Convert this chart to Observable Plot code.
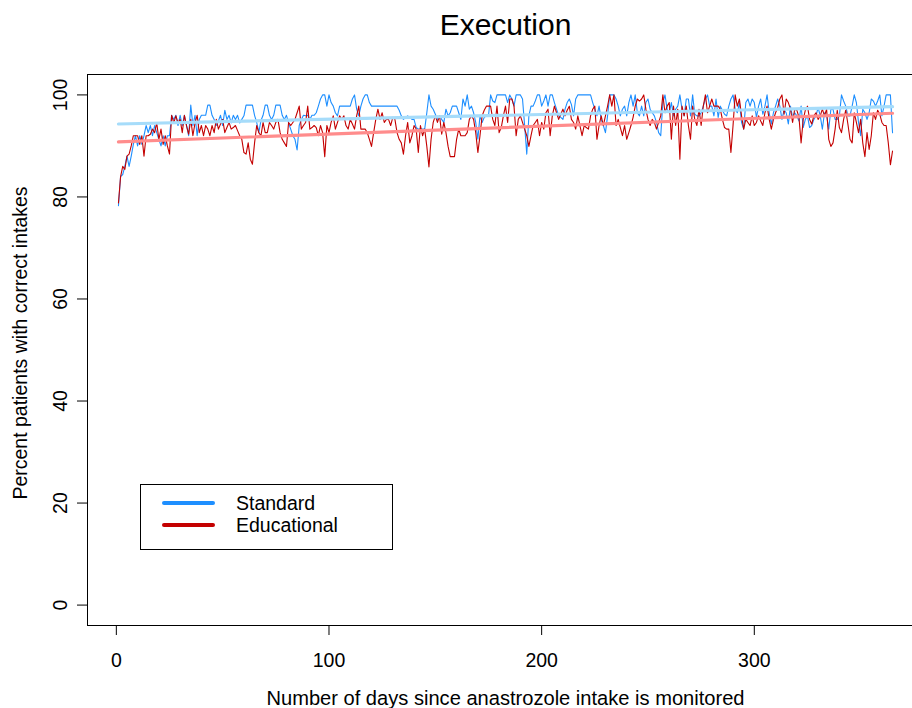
<!DOCTYPE html>
<html>
<head>
<meta charset="utf-8">
<script src="https://cdn.jsdelivr.net/npm/d3@7"></script>
<script src="https://cdn.jsdelivr.net/npm/@observablehq/plot@0.6"></script>
<style>
  html, body { margin: 0; padding: 0; background: white; }
  #wrap { position: relative; width: 912px; height: 708px; overflow: hidden; font-family: "Liberation Sans", Arial, sans-serif; }
  #wrap svg { max-width: none !important; }
</style>
</head>
<body>
<div id="wrap"></div>
<script>
const title = "Execution";
const xLabel = "Number of days since anastrozole intake is monitored";
const yLabel = "Percent patients with correct intakes";
const seriesNames = ["Standard", "Educational"];
const xTicks = [0, 100, 200, 300];
const yTicks = [0, 20, 40, 60, 80, 100];

const days = d3.range(1, 366);

const standard = [
  78.3, 84, 84.4, 86, 88, 86, 88, 90.3, 92, 90,
  92, 90.3, 92, 94, 92.6, 94, 92, 94, 92.6, 91.3,
  90, 92, 90, 92, 92, 96, 95.2, 96, 94, 96,
  94, 96, 94, 92, 98, 94, 96, 92, 95.2, 96,
  96, 96, 98, 98, 96,
  95.2, 94, 94.9, 96, 94,
  97, 95.2, 96, 94.5, 96, 95.2, 96, 94.5, 95.2, 95.9,
  98, 98, 98, 98, 96, 94.6, 92.6, 95, 96, 98,
  98, 96, 95.2, 96, 98, 98, 98, 96, 95.2, 96,
  94.5, 93.3, 92, 91.3, 89.2, 94, 95.2, 96, 95.9, 96,
  95.2, 96, 96,
  96.5, 97.8, 99.2, 100, 100, 97.8, 100,
  98.5, 97.8, 96.5, 95.9, 97.8, 97.8, 97.8, 97.8, 97.8, 97.8,
  99.2, 100, 97.2, 95.9, 97.8, 99.2, 100, 100, 98.5, 97.8,
  97.8, 97.8, 97.8, 97.8, 97.8, 97.8, 97.8, 97.8, 97.8, 97.8,
  97.8, 97.8, 97, 95.9, 95.2, 95.6, 95.9, 95.6, 95.2, 95.2,
  93.6, 93.3, 93.3, 93.3, 93.3, 96.5, 100, 97.8, 97.2, 96.2,
  95.2, 95.9, 95.2, 94.6, 97.2, 95.9, 96.5, 97.8, 97.8, 97.8,
  96.5, 95.2, 99.2, 97.8, 100, 97.2, 97.8, 96.5, 94.6, 91.3,
  95.9, 94.6, 95.6, 95.9, 95.9, 100, 98.8, 98.5, 100, 100,
  100, 100, 100, 98.5, 100, 99.2, 97.8,
  100, 100, 100,
  99.2, 94, 88.4, 95.9, 97.8, 97.8, 98.8, 100, 100, 97.8,
  98.8, 100, 97.8, 100, 100, 98.5, 97.2, 95.9, 95.6, 95.2,
  97.2, 98.5, 99.2, 98.1, 95.9, 99.2, 100, 100, 100, 100,
  100, 100, 100, 98.5, 97.2, 95.9, 97.8, 95.2, 94, 92.6,
  95.9, 100, 100, 100,
  99.2, 97.8, 95.9, 97.2, 97.8, 95.9,
  98.5, 100, 97.8, 100, 96.5, 95.9, 97.8, 95.9, 98.5, 99.2,
  97.2, 96.5, 95.9, 94.6, 92.6, 92, 98.5, 100, 97.2, 96.5,
  98.5, 95.9, 97.2, 97.8, 100, 97.2, 95.9, 99.2, 99.2, 95.9,
  100, 96.2, 95.9, 95.9, 96.5, 97.8, 99.2, 100, 97.8, 97.8,
  95.9,
  99.2, 95.6, 97.8, 97, 96.2, 95.9, 97.8, 99.2, 100,
  97.2, 96.5, 98.5, 94.6, 93.3, 98.5, 99.2, 97.8, 99.2, 98.5,
  95.6, 97.8, 99.2, 96.2, 97.8, 100, 96.5, 94.3, 96.5, 97.8,
  99.2, 97.8, 95.2, 97, 96.5, 94.3, 97.8, 95.6, 96.5, 95.9,
  94.9, 97.8, 93.6, 95.2, 95.9, 93.6, 94, 95.2,
  95.9, 97.5,
  95.9, 93.3, 96.5, 95.9, 93.3, 97.2, 97.2, 95.2, 95.2, 95.9,
  100, 98.8, 97.8, 95.9, 95.9, 97.8, 100, 98.5, 94.6, 92,
  97.2, 96.5, 95.2, 96.5, 99.2, 98.8, 97.8, 98.8, 100, 95.9,
  97.8, 100, 100, 100, 92.6
];

const educational = [
  78.8, 84, 86, 85.4, 88, 88.4, 90, 92, 92, 92,
  90.3, 92, 88, 92, 92, 92.3, 93.3, 92.6, 94.5, 91.3,
  93.3, 90.3, 92, 90, 88.4, 96, 94.5, 95.9, 94.5, 95.2,
  92.6, 96, 94, 92.3, 95.2, 92, 94.5, 96, 92.6, 94,
  92, 94, 93.3, 92, 94,
  92.6, 95.2, 93.3, 94.3, 95.2,
  92.6, 93.6, 94.6, 93.3, 93.6, 94, 93, 92, 91.3, 88.7,
  88.4, 90.6, 87.4, 86.4, 90.6, 94, 92.6, 92, 94.6, 92.6,
  92.6, 94.6, 94, 93.3, 94.6, 95.2, 92.6, 91.3, 90.6, 89.9,
  94.6, 94, 94.6, 95.2, 96.5, 97.8, 93.3, 94, 94.6, 97.8,
  93.3, 93.6, 94,
  93.6, 92, 94, 92.6, 87.9, 94, 92.6,
  94.6, 95.9, 93.3, 94.6, 95.9, 95.2, 95.9, 94, 93.3, 95.2,
  94.3, 93.3, 95.9, 97.8, 93.3, 93.3, 93.3, 92.6, 91.3, 89.9,
  92.6, 95.2, 97.2, 95.2, 96.5, 94.6, 95.2, 95.2, 94, 95.6,
  95.2, 92.6, 91.3, 90.6, 88.4, 92, 94.6, 90.6, 92, 94,
  93.3, 88.7, 94, 92, 93.3, 89.9, 85.9, 91.3, 94.6, 95.9,
  94.6, 95.9, 92.3, 94.6, 92.6, 89.9, 87.9, 87.9, 87.9, 91.3,
  93.3, 92, 92, 92, 92.6, 95.2, 95.9, 95.2, 92.6, 88.7,
  92, 95.9, 97, 97.8, 97.8, 97.8, 95.2, 94, 97.8, 92.6,
  93.6, 95.9, 97.8, 94.6, 99.2, 99.2, 97.8,
  92, 95.2, 95.9,
  94.6, 93.3, 92, 89.9, 92, 94, 94.6, 95.2, 92, 94.6,
  93.3, 96.5, 97.2, 92, 95.9, 97.8, 96.5, 95.2, 96.2, 97.2,
  95.9, 97, 97.8, 95.2, 94.6, 93.3, 95.9, 94, 92, 94,
  93.6, 93.3, 95.9, 97.2, 97.8, 91.3, 94, 95.9, 94, 95.9,
  97.8, 100, 97.8, 100,
  94, 95.2, 93.6, 92, 94, 91.3,
  92.6, 94, 95.6, 97.8, 99.2, 98.8, 99.2, 100, 97.2, 95.2,
  94, 95.2, 94.6, 93.3, 94.6, 95.9, 100, 96.5, 97.8, 98.5,
  91.3, 97.8, 94, 97.2, 87.4, 97.8, 95.9, 97.8, 94, 91.3,
  97.8, 95.2, 94, 97.2, 94, 97.8, 100, 96.5, 97.8, 99.2,
  97.8,
  97.8, 97.8, 97.2, 95.2, 93.6, 93.3, 93.3, 88.7, 94,
  100, 97.8, 99.2, 95.9, 93.3, 95.2, 94.6, 94, 95.9, 94,
  94.6, 95.9, 94.9, 94, 96.5, 97.8, 95.2, 93.3, 95.2, 96.5,
  97.5, 99.2, 100, 96.2, 99.2, 98.5, 97.2, 94.6, 97.2, 97,
  95.6, 90.6, 95.2, 97, 97.8, 95.2, 94.3, 95.9,
  96.5, 95.2,
  95.9, 97.2, 95.9, 97.2, 91.3, 89.9, 90.6, 93.3, 97, 93.6,
  92.6, 95.2, 97, 94.3, 91.3, 90.6, 96.5, 94.6, 92.6, 95.2,
  90.6, 87.9, 92.6, 89.3, 92, 96.5, 95.2, 97, 96.2, 94.6,
  94, 94, 90.6, 86.3, 89
];

const trendDays = [1, 365];
const standardTrend = [94.3, 97.7];
const educationalTrend = [90.8, 96.4];

const colStd = "#1E8FFF";
const colEdu = "#C40000";
const colStdTrend = "#A6DCFA";
const colEduTrend = "#FF8C8C";

const stdData = standard.map((v, i) => ({day: days[i], value: v}));
const eduData = educational.map((v, i) => ({day: days[i], value: v}));
const stdTrendData = trendDays.map((d, i) => ({day: d, value: standardTrend[i]}));
const eduTrendData = trendDays.map((d, i) => ({day: d, value: educationalTrend[i]}));

const fontFamily = "'Liberation Sans', Arial, sans-serif";

const chart = Plot.plot({
  width: 924,
  height: 708,
  marginTop: 74,
  marginBottom: 83,
  marginLeft: 87,
  marginRight: 1,
  style: {fontFamily, fontSize: "19.5px", background: "white", color: "black", overflow: "visible", maxWidth: "none"},
  x: {domain: [-13.56, 379.56]},
  y: {domain: [-4, 104]},
  marks: [
    Plot.frame({stroke: "black", strokeWidth: 1}),
    Plot.line(stdData, {x: "day", y: "value", stroke: colStd, strokeWidth: 1.1}),
    Plot.line(eduData, {x: "day", y: "value", stroke: colEdu, strokeWidth: 1.1}),
    Plot.line(stdTrendData, {x: "day", y: "value", stroke: colStdTrend, strokeWidth: 3.2}),
    Plot.line(eduTrendData, {x: "day", y: "value", stroke: colEduTrend, strokeWidth: 3.2}),
    Plot.axisX({ticks: xTicks, tickSize: 10, tickPadding: 18, fontSize: 19.5, label: null, tickFormat: d => String(d)}),
    Plot.axisY({ticks: yTicks, tickSize: 10, text: null, label: null}),
    Plot.axisY({ticks: yTicks, tickSize: 0, tickPadding: 27, fontSize: 19.5, label: null, rotate: -90, textAnchor: "middle", tickFormat: d => String(d)}),
    Plot.text([title], {frameAnchor: "top", dy: -49, fontSize: 30, lineAnchor: "middle", textAnchor: "middle"}),
    Plot.text([xLabel], {frameAnchor: "bottom", dy: 73, fontSize: 20.1, lineAnchor: "middle", textAnchor: "middle"}),
    Plot.text([yLabel], {frameAnchor: "left", dx: -67, dy: -7, rotate: -90, fontSize: 19.5, lineAnchor: "middle", textAnchor: "middle"})
  ]
});
chart.style.maxWidth = "none";

const wrap = document.getElementById("wrap");
wrap.appendChild(chart);

// Legend overlay (inside the plot region, as in the original)
const ns = "http://www.w3.org/2000/svg";
const leg = document.createElementNS(ns, "svg");
leg.setAttribute("width", 912);
leg.setAttribute("height", 708);
leg.style.position = "absolute";
leg.style.left = "0px";
leg.style.top = "0px";
const legColors = [colStd, colEdu];
const box = document.createElementNS(ns, "rect");
box.setAttribute("x", 140.5); box.setAttribute("y", 484.5);
box.setAttribute("width", 252); box.setAttribute("height", 65);
box.setAttribute("fill", "white"); box.setAttribute("stroke", "black"); box.setAttribute("stroke-width", 1);
leg.appendChild(box);
seriesNames.forEach((name, i) => {
  const y = 503 + i * 22;
  const ln = document.createElementNS(ns, "line");
  ln.setAttribute("x1", 164); ln.setAttribute("x2", 213);
  ln.setAttribute("y1", y); ln.setAttribute("y2", y);
  ln.setAttribute("stroke", legColors[i]); ln.setAttribute("stroke-width", 4);
  ln.setAttribute("stroke-linecap", "round");
  leg.appendChild(ln);
  const tx = document.createElementNS(ns, "text");
  tx.setAttribute("x", 236); tx.setAttribute("y", y + 7);
  tx.setAttribute("font-family", fontFamily);
  tx.setAttribute("font-size", "19.5px");
  tx.setAttribute("fill", "black");
  tx.textContent = name;
  leg.appendChild(tx);
});
wrap.appendChild(leg);
</script>
</body>
</html>
